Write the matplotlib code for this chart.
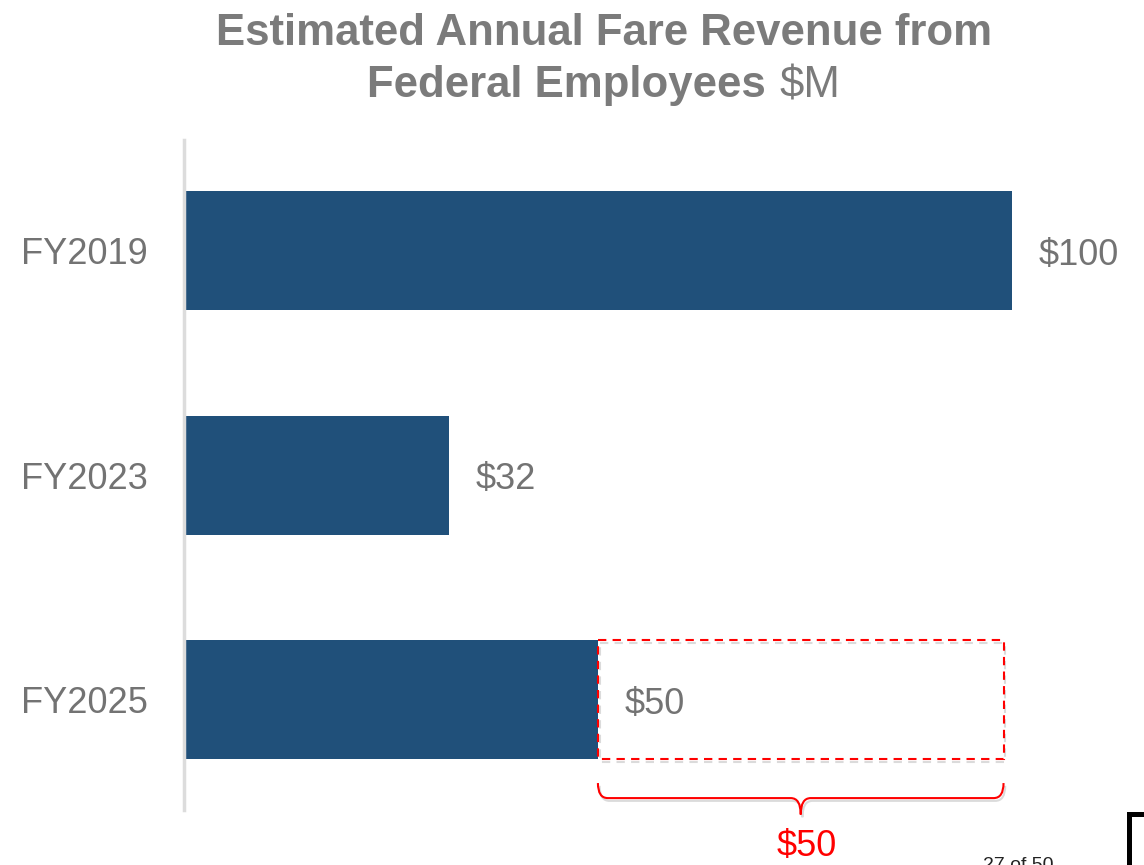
import matplotlib
matplotlib.use("Agg")
import matplotlib.pyplot as plt
import matplotlib.patches as patches
import matplotlib.patheffects as pe
from matplotlib.path import Path

plt.rcParams['font.family'] = ['Liberation Sans', 'DejaVu Sans']

years = ['FY2019', 'FY2023', 'FY2025']
revenue = [100, 32, 50]
labels = ['$100', '$32', '$50']
gap_value = 50
gap_label = '$50'

bar_color = '#20507a'
grey = '#737373'
red = '#ff0000'

fig = plt.figure(figsize=(11.44, 8.65), dpi=100)
ax = fig.add_axes([184 / 1144, 1 - 810 / 865, (1136 - 184) / 1144, 670 / 865])

pos = list(range(len(years)))
ax.barh(pos, revenue, height=0.53, color=bar_color)
ax.set_xlim(0, 115)
ax.set_ylim(2.49, -0.494)

for p, v, lab in zip(pos, revenue, labels):
	ax.annotate(lab.replace('$', r'\$'), (v, p), xytext=(19, -3), textcoords='offset points',
				va='center', ha='left', fontsize=26, color=grey)

ax.set_yticks(pos)
ax.set_yticklabels(years, fontsize=26, color=grey)
ax.tick_params(axis='y', length=0, pad=26)
ax.set_xticks([])
for s in ['top', 'right', 'bottom']:
	ax.spines[s].set_visible(False)
ax.spines['left'].set_color('#dcdcdc')
ax.spines['left'].set_linewidth(2.5)

# dashed box showing the gap to FY2019
shadow = [pe.SimpleLineShadow(offset=(1.2, -2), shadow_color='#999999', alpha=0.35), pe.Normal()]
last = revenue[-1]
box = patches.Rectangle((last, pos[-1] - 0.265), gap_value * 0.98, 0.53, fill=False,
						edgecolor=red, linestyle=(0, (4, 3)), linewidth=1.5, path_effects=shadow)
ax.add_patch(box)

# curly brace under the box
x0, x1 = last, last + gap_value * 0.98
xm = (x0 + x1) / 2
yt, yb, ytip = 2.37, 2.437, 2.51
r = 1.2
brace = Path([(x0, yt), (x0, yb), (x0 + r, yb), (xm - r, yb), (xm, yb), (xm, ytip),
			  (x1, yt), (x1, yb), (x1 - r, yb), (xm + r, yb), (xm, yb), (xm, ytip)],
			 [Path.MOVETO, Path.CURVE3, Path.CURVE3, Path.LINETO, Path.CURVE3, Path.CURVE3,
			  Path.MOVETO, Path.CURVE3, Path.CURVE3, Path.LINETO, Path.CURVE3, Path.CURVE3])
ax.add_patch(patches.PathPatch(brace, fill=False, edgecolor=red, linewidth=1.5,
							   clip_on=False, path_effects=shadow))
ax.annotate(gap_label.replace('$', r'\$'), (xm, 2.575), xytext=(4, 0), textcoords='offset points',
			ha='center', va='top', fontsize=26, color=red, annotation_clip=False)

# title
fig.text(604.5 / 1144, 1 - 45 / 865, 'Estimated Annual Fare Revenue from', ha='center',
		 va='baseline', fontsize=31.5, fontweight='bold', color='#7b7b7b')
fig.text(766 / 1144, 1 - 97 / 865, 'Federal Employees', ha='right', va='baseline',
		 fontsize=31.5, fontweight='bold', color='#7b7b7b')
fig.text(779 / 1144, 1 - 97 / 865, r'\$M', ha='left', va='baseline', fontsize=31.5,
		 color='#7b7b7b')

# page footer bits cut off at the edge
fig.text(983 / 1144, 1 - 857 / 865, '27 of 50', ha='left', va='top', fontsize=14, color='#222222')
fig.add_artist(patches.Rectangle((1129 / 1144, -0.1), 0.2, 0.1 + 1 - 814 / 865, fill=False,
								 edgecolor='black', linewidth=3.6, transform=fig.transFigure,
								 clip_on=False))

fig.savefig('out.png', dpi=100)
